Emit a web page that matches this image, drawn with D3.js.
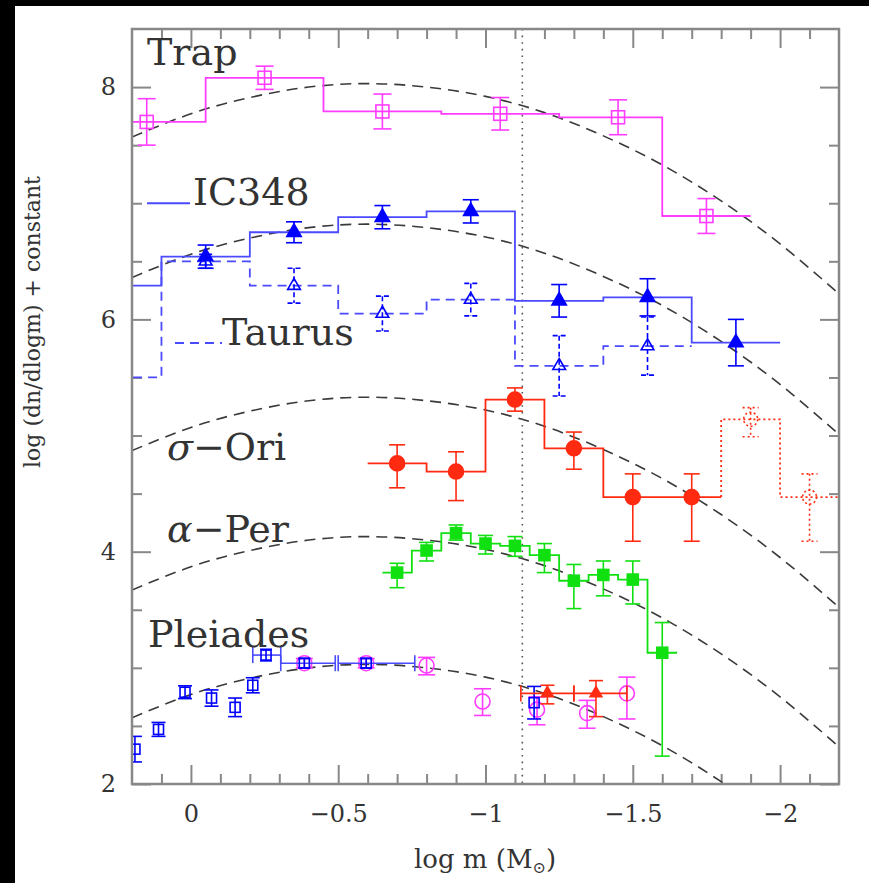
<!DOCTYPE html>
<html>
<head>
<meta charset="utf-8">
<script src="https://cdn.jsdelivr.net/npm/d3@7"></script>
<style>
  html, body { margin: 0; padding: 0; background: #fff; }
  svg { display: block; }
  text { font-family: 'DejaVu Serif', serif; fill: #333; }
  .tick line { stroke: #888; stroke-width: 2; }
  .tick text { font-size: 24px; fill: #333; font-family: 'DejaVu Serif', serif; }
  .label { font-size: 38px; }
</style>
</head>
<body>
<svg id="chart" width="869" height="883"></svg>
<script>
'use strict';

// tick labels
const xMajor = [0, -0.5, -1, -1.5, -2];
const xMinor = [0.1, -0.1, -0.2, -0.3, -0.4, -0.6, -0.7, -0.8, -0.9, -1.1, -1.2, -1.3, -1.4,
  -1.6, -1.7, -1.8, -1.9, -2.1];
const yMajor = [2, 4, 6, 8];
const yMinor = [2.5, 3, 3.5, 4.5, 5, 5.5, 6.5, 7, 7.5];
const hydrogenLimit = -1.125;

// dashed lognormal curves, read at these log m
const curveX = [0.2, 0, -0.2, -0.4, -0.6, -0.8, -1.0, -1.2, -1.4, -1.6, -1.8, -2.0, -2.2];
const curveTrap = [7.57, 7.77, 7.91, 8.00, 8.03, 8.00, 7.92, 7.78, 7.58, 7.33, 7.02, 6.65, 6.22];
const curveIC348 = [6.36, 6.56, 6.70, 6.79, 6.82, 6.79, 6.71, 6.57, 6.37, 6.12, 5.81, 5.44, 5.01];
const curveSigOri = [4.87, 5.07, 5.21, 5.30, 5.33, 5.30, 5.22, 5.08, 4.88, 4.63, 4.32, 3.95, 3.52];
const curveAlphaPer = [3.67, 3.87, 4.01, 4.10, 4.13, 4.10, 4.02, 3.88, 3.68, 3.43, 3.12, 2.75, 2.32];
const curvePleiades = [2.57, 2.77, 2.91, 3.00, 3.03, 3.00, 2.92, 2.78, 2.58, 2.33, 2.02, 1.65, 1.22];

// Trapezium
const trapEdges = [0.35, -0.05, -0.45, -0.85, -1.25, -1.60, -1.90];
const trapX = [0.15, -0.25, -0.65, -1.05, -1.45, -1.75];
const trapY = [7.70, 8.08, 7.79, 7.77, 7.74, 6.89];
const trapErr = [0.20, 0.10, 0.15, 0.14, 0.15, 0.15];

// IC348
const ic348Edges = [0.4, 0.1, -0.2, -0.5, -0.8, -1.1, -1.4, -1.7, -2.0];
const ic348X = [0.25, -0.05, -0.35, -0.65, -0.95, -1.25, -1.55, -1.85];
const ic348Y = [6.29, 6.54, 6.75, 6.88, 6.93, 6.16, 6.19, 5.80];
const ic348Err = [0.10, 0.10, 0.09, 0.10, 0.10, 0.14, 0.16, 0.20];

// Taurus
const taurusEdges = [0.4, 0.1, -0.2, -0.5, -0.8, -1.1, -1.4, -1.7];
const taurusX = [0.25, -0.05, -0.35, -0.65, -0.95, -1.25, -1.55];
const taurusY = [5.50, 6.50, 6.29, 6.05, 6.17, 5.60, 5.77];
const taurusErr = [0.20, 0.06, 0.15, 0.15, 0.14, 0.26, 0.25];

// sigma Ori, solid part and dotted extension
const sigOriEdges = [-0.6, -0.8, -1.0, -1.2, -1.4, -1.6, -1.8];
const sigOriX = [-0.7, -0.9, -1.1, -1.3, -1.5, -1.7];
const sigOriY = [4.76, 4.69, 5.31, 4.89, 4.47, 4.47];
const sigOriHi = [0.16, 0.17, 0.10, 0.14, 0.20, 0.20];
const sigOriLo = [0.21, 0.25, 0.10, 0.18, 0.38, 0.38];
const sigOriExtEdges = [-1.8, -2.0, -2.2, -2.4];
const sigOriExtX = [-1.9, -2.1, -2.3];
const sigOriExtY = [5.14, 4.47, 4.00];
const sigOriExtHi = [0.10, 0.20, 0.20];
const sigOriExtLo = [0.15, 0.38, 0.38];

// alpha Per
const alphaPerEdges = [-0.65, -0.75, -0.85, -0.95, -1.05, -1.15, -1.25, -1.35, -1.45, -1.55, -1.65];
const alphaPerX = [-0.7, -0.8, -0.9, -1.0, -1.1, -1.2, -1.3, -1.4, -1.5, -1.6];
const alphaPerY = [3.82, 4.01, 4.16, 4.07, 4.05, 3.97, 3.75, 3.80, 3.76, 3.13];
const alphaPerHi = [0.08, 0.07, 0.07, 0.07, 0.08, 0.10, 0.14, 0.12, 0.16, 0.26];
const alphaPerLo = [0.13, 0.09, 0.06, 0.09, 0.09, 0.15, 0.24, 0.18, 0.21, 0.89];

// Pleiades: blue squares, blue binned points, magenta circles, red triangles
const pleiSqX = [0.19, 0.11, 0.02, -0.07, -0.15, -0.21, -1.165];
const pleiSqY = [2.30, 2.47, 2.79, 2.74, 2.66, 2.85, 2.70];
const pleiSqErr = [0.11, 0.06, 0.055, 0.07, 0.08, 0.065, 0.14];
const pleiBinX = [-0.255, -0.385, -0.595];
const pleiBinY = [3.11, 3.04, 3.04];
const pleiBinLoX = [-0.21, -0.305, -0.50];
const pleiBinHiX = [-0.305, -0.49, -0.76];
const pleiBinErr = [0.05, 0.04, 0.04];
const pleiCircX = [-0.385, -0.595, -0.80, -0.99, -1.175, -1.345, -1.48];
const pleiCircY = [3.04, 3.04, 3.02, 2.71, 2.64, 2.61, 2.78];
const pleiCircHi = [0.04, 0.04, 0.07, 0.11, 0.11, 0.11, 0.14];
const pleiCircLo = [0.04, 0.04, 0.08, 0.12, 0.13, 0.13, 0.22];
const pleiTriX = [-1.21, -1.375];
const pleiTriY = [2.78, 2.78];
const pleiTriLoX = [-1.12, -1.30];
const pleiTriHiX = [-1.30, -1.48];
const pleiTriHi = [0.07, 0.11];
const pleiTriLo = [0.09, 0.20];

const magenta = '#ff3cff';
const blue = '#0000ff';
const blueLine = '#4a4aff';
const red = '#ff2a10';
const green = '#10e010';

const svg = d3.select('#chart');

svg.append('rect')
    .attr('width', 869)
    .attr('height', 6)
    .attr('fill', '#000');
svg.append('rect')
    .attr('width', 15)
    .attr('height', 883)
    .attr('fill', '#000');

const x = d3.scaleLinear()
    .domain([0.2, -2.2])
    .range([132, 839]);

const y = d3.scaleLinear()
    .domain([2, 8.5])
    .range([784, 29]);

svg.append('clipPath')
    .attr('id', 'plot-clip')
  .append('rect')
    .attr('x', x.range()[0])
    .attr('y', y.range()[1])
    .attr('width', x.range()[1] - x.range()[0])
    .attr('height', y.range()[0] - y.range()[1]);

// axes, ticks pointing inward on all four sides
const fmt = d3.format('');
const axes = [
  [d3.axisBottom(x).tickValues(xMajor).tickSize(-19).tickPadding(21).tickFormat(fmt), `translate(0, ${y(2)})`],
  [d3.axisBottom(x).tickValues(xMinor).tickSize(-10).tickFormat(''), `translate(0, ${y(2)})`],
  [d3.axisTop(x).tickValues(xMajor).tickSize(-19).tickFormat(''), `translate(0, ${y(8.5)})`],
  [d3.axisTop(x).tickValues(xMinor).tickSize(-10).tickFormat(''), `translate(0, ${y(8.5)})`],
  [d3.axisLeft(y).tickValues(yMajor).tickSize(-19).tickPadding(16).tickFormat(fmt), `translate(${x(0.2)}, 0)`],
  [d3.axisLeft(y).tickValues(yMinor).tickSize(-10).tickFormat(''), `translate(${x(0.2)}, 0)`],
  [d3.axisRight(y).tickValues(yMajor).tickSize(-19).tickFormat(''), `translate(${x(-2.2)}, 0)`],
  [d3.axisRight(y).tickValues(yMinor).tickSize(-10).tickFormat(''), `translate(${x(-2.2)}, 0)`]
];
axes.forEach(([axis, t]) => {
  const g = svg.append('g')
      .attr('transform', t)
      .call(axis);
  g.select('.domain').remove();
});

const plot = svg.append('g')
    .attr('clip-path', 'url(#plot-clip)');

// dashed model curves
const curveLine = d3.line()
    .x((d, i) => x(curveX[i]))
    .y(d => y(d))
    .curve(d3.curveNatural);

[curveTrap, curveIC348, curveSigOri, curveAlphaPer, curvePleiades].forEach(c => {
  plot.append('path')
      .attr('d', curveLine(c))
      .attr('fill', 'none')
      .attr('stroke', '#3a3a3a')
      .attr('stroke-width', 1.6)
      .attr('stroke-dasharray', '11,7');
});

// hydrogen burning limit
plot.append('line')
    .attr('x1', x(hydrogenLimit))
    .attr('x2', x(hydrogenLimit))
    .attr('y1', y(8.5))
    .attr('y2', y(2))
    .attr('stroke', '#555')
    .attr('stroke-width', 1.6)
    .attr('stroke-dasharray', '1.6,5');

// step histogram; startLevel draws the riser from a preceding bin
function hist(edges, vals, color, dash, startLevel) {
  const pts = vals.map((v, i) => [edges[i], v]);
  pts.push([edges[vals.length], vals[vals.length - 1]]);
  if (startLevel !== undefined) pts.unshift([edges[0], startLevel]);
  plot.append('path')
      .datum(pts)
      .attr('d', d3.line().x(d => x(d[0])).y(d => y(d[1])).curve(d3.curveStepAfter))
      .attr('fill', 'none')
      .attr('stroke', color)
      .attr('stroke-width', 1.8)
      .attr('stroke-dasharray', dash || null);
}

function yErrors(xs, ys, hi, lo, cap, color, dash) {
  const g = plot.append('g')
      .attr('stroke', color)
      .attr('stroke-width', 1.6)
      .attr('stroke-dasharray', dash || null);
  xs.forEach((xv, i) => {
    const cx = x(xv);
    const top = y(ys[i] + hi[i]);
    const bot = y(ys[i] - lo[i]);
    g.append('line').attr('x1', cx).attr('x2', cx).attr('y1', top).attr('y2', bot);
    g.append('line').attr('x1', cx - cap / 2).attr('x2', cx + cap / 2).attr('y1', top).attr('y2', top);
    g.append('line').attr('x1', cx - cap / 2).attr('x2', cx + cap / 2).attr('y1', bot).attr('y2', bot);
  });
}

function xErrors(ys, loX, hiX, cap, color) {
  const g = plot.append('g')
      .attr('stroke', color)
      .attr('stroke-width', 1.6);
  ys.forEach((yv, i) => {
    const cy = y(yv);
    const a = x(loX[i]);
    const b = x(hiX[i]);
    g.append('line').attr('x1', a).attr('x2', b).attr('y1', cy).attr('y2', cy);
    g.append('line').attr('x1', a).attr('x2', a).attr('y1', cy - cap / 2).attr('y2', cy + cap / 2);
    g.append('line').attr('x1', b).attr('x2', b).attr('y1', cy - cap / 2).attr('y2', cy + cap / 2);
  });
}

function squares(xs, ys, size, color, filled) {
  plot.append('g')
    .selectAll('rect')
    .data(xs)
    .join('rect')
      .attr('x', d => x(d) - size / 2)
      .attr('y', (d, i) => y(ys[i]) - size / 2)
      .attr('width', size)
      .attr('height', size)
      .attr('fill', filled ? color : 'none')
      .attr('stroke', color)
      .attr('stroke-width', 1.6);
}

function circles(xs, ys, r, color, filled, dash) {
  plot.append('g')
    .selectAll('circle')
    .data(xs)
    .join('circle')
      .attr('cx', d => x(d))
      .attr('cy', (d, i) => y(ys[i]))
      .attr('r', r)
      .attr('fill', filled ? color : 'none')
      .attr('stroke', color)
      .attr('stroke-width', 1.6)
      .attr('stroke-dasharray', dash || null);
}

function triangles(xs, ys, size, color, filled) {
  plot.append('g')
    .selectAll('path')
    .data(xs)
    .join('path')
      .attr('transform', (d, i) => `translate(${x(d)}, ${y(ys[i])})`)
      .attr('d', d3.symbol(d3.symbolTriangle, size))
      .attr('fill', filled ? color : 'none')
      .attr('stroke', color)
      .attr('stroke-width', 1.6);
}

// Trapezium
hist(trapEdges, trapY, magenta);
yErrors(trapX, trapY, trapErr, trapErr, 18, magenta);
squares(trapX, trapY, 13, magenta, false);

// Taurus
hist(taurusEdges, taurusY, blueLine, '9,6');
yErrors(taurusX, taurusY, taurusErr, taurusErr, 13, blue, '5,3');
triangles(taurusX, taurusY, 70, blue, false);

// IC348
hist(ic348Edges, ic348Y, blueLine);
yErrors(ic348X, ic348Y, ic348Err, ic348Err, 16, blue);
triangles(ic348X, ic348Y, 90, blue, true);

// sigma Ori
hist(sigOriEdges, sigOriY, red);
yErrors(sigOriX, sigOriY, sigOriHi, sigOriLo, 16, red);
circles(sigOriX, sigOriY, 7.5, red, true);
hist(sigOriExtEdges, sigOriExtY, red, '2,3', sigOriY[sigOriY.length - 1]);
yErrors(sigOriExtX, sigOriExtY, sigOriExtHi, sigOriExtLo, 16, red, '2,3');
circles(sigOriExtX, sigOriExtY, 7, red, false, '2,2.5');

// alpha Per
hist(alphaPerEdges, alphaPerY, green);
yErrors(alphaPerX, alphaPerY, alphaPerHi, alphaPerLo, 15, green);
squares(alphaPerX, alphaPerY, 11, green, true);

// Pleiades
yErrors(pleiCircX, pleiCircY, pleiCircHi, pleiCircLo, 17, magenta);
circles(pleiCircX, pleiCircY, 7.5, magenta, false);
yErrors(pleiSqX, pleiSqY, pleiSqErr, pleiSqErr, 14, blue);
squares(pleiSqX, pleiSqY, 10, blue, false);
xErrors(pleiBinY, pleiBinLoX, pleiBinHiX, 16, blueLine);
yErrors(pleiBinX, pleiBinY, pleiBinErr, pleiBinErr, 12, blue);
squares(pleiBinX, pleiBinY, 10, blue, false);
xErrors(pleiTriY, pleiTriLoX, pleiTriHiX, 16, red);
yErrors(pleiTriX, pleiTriY, pleiTriHi, pleiTriLo, 14, red);
triangles(pleiTriX, pleiTriY, 60, red, true);

// frame
svg.append('rect')
    .attr('x', x(0.2))
    .attr('y', y(8.5))
    .attr('width', x(-2.2) - x(0.2))
    .attr('height', y(2) - y(8.5))
    .attr('fill', 'none')
    .attr('stroke', '#888')
    .attr('stroke-width', 2.5);

// legend stubs for IC348 (solid) and Taurus (dashed)
svg.append('line')
    .attr('x1', 147).attr('x2', 190)
    .attr('y1', y(7)).attr('y2', y(7))
    .attr('stroke', blueLine)
    .attr('stroke-width', 1.8);
svg.append('line')
    .attr('x1', 175).attr('x2', 222)
    .attr('y1', 343).attr('y2', 343)
    .attr('stroke', blueLine)
    .attr('stroke-width', 1.8)
    .attr('stroke-dasharray', '9,6');

// cluster names
const labels = [
  ['Trap', 147, 65],
  ['IC348', 193, 205],
  ['Taurus', 222, 345],
  ['Pleiades', 148, 647]
];
labels.forEach(([t, lx, ly]) => {
  svg.append('text')
      .attr('class', 'label')
      .attr('x', lx)
      .attr('y', ly)
      .text(t);
});

const sig = svg.append('text')
    .attr('class', 'label')
    .attr('x', 167)
    .attr('y', 460);
sig.append('tspan').attr('font-style', 'italic').text('σ');
sig.append('tspan').text('−Ori');

const alp = svg.append('text')
    .attr('class', 'label')
    .attr('x', 167)
    .attr('y', 542);
alp.append('tspan').attr('font-style', 'italic').text('α');
alp.append('tspan').text('−Per');

// axis titles
const xt = svg.append('text')
    .attr('x', 485)
    .attr('y', 868)
    .attr('text-anchor', 'middle')
    .attr('font-size', 26);
xt.append('tspan').text('log  m  (M');
xt.append('tspan').attr('font-size', 16).attr('dy', 5).text('⊙');
xt.append('tspan').attr('dy', -5).text(')');

svg.append('text')
    .attr('transform', 'translate(40, 322) rotate(-90)')
    .attr('text-anchor', 'middle')
    .attr('font-size', 22)
    .text('log (dn/dlogm) + constant');
</script>
</body>
</html>
